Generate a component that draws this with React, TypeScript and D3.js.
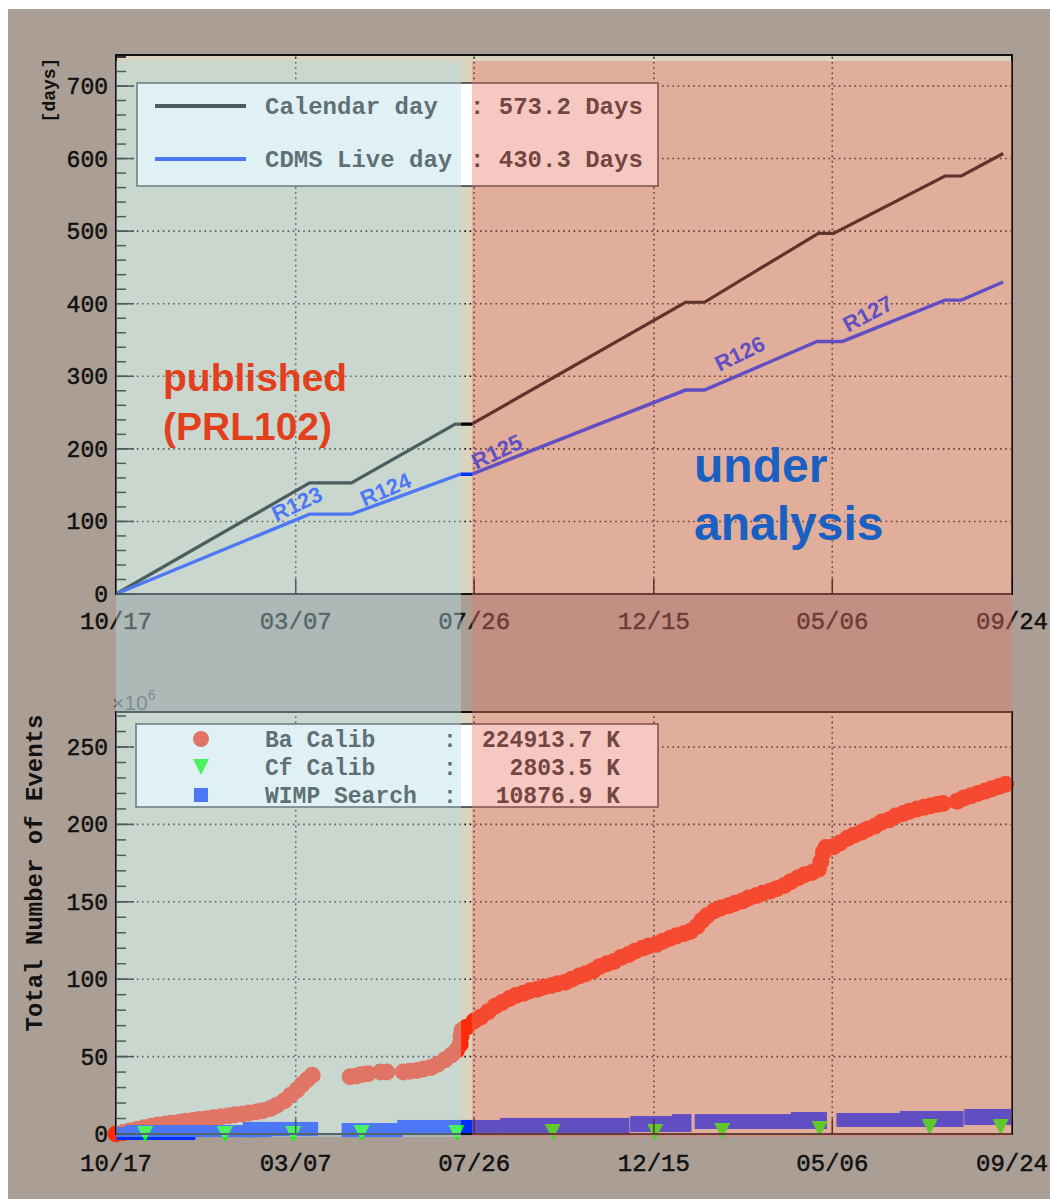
import React from 'react'
import * as d3 from 'd3'

// x axis: days since 10/17
const xTickLabels = ['10/17', '03/07', '07/26', '12/15', '05/06', '09/24']
const xTickDays = [0, 142, 283, 425, 566, 708]
const topTicks = [0, 100, 200, 300, 400, 500, 600, 700]
const bottomTicks = [0, 50, 100, 150, 200, 250]

// [day, days accumulated]
const calendarDay: [number, number][] = [
  [0, 0], [153, 153], [186, 153], [268, 234], [281, 234], [450, 402], [465, 402],
  [555, 497], [567, 497], [655, 576], [668, 576], [701, 607],
]
const liveDay: [number, number][] = [
  [0, 0], [153, 110], [186, 110], [272, 165], [281, 165], [450, 281], [465, 281],
  [554, 348], [574, 348], [655, 405], [668, 405], [701, 430],
]
const runNames = ['R123', 'R124', 'R125', 'R126', 'R127']
const runLabelPos: [number, number, number][] = [
  [143, 124, -25], [213, 144, -23], [301, 196, -25], [493, 331, -26], [594, 386, -28],
]

// Ba calib, [day, 10^6 events]
const baCalib: [number, number][] = [
  [0, 0], [6, 1], [11, 2], [17, 3], [22, 4], [28, 5], [33, 5.8], [39, 6.5], [44, 7],
  [50, 7.6], [55, 8.2], [61, 8.8], [66, 9.3], [72, 9.8], [77, 10.5], [83, 11.2],
  [89, 11.8], [94, 12.4], [100, 13], [105, 13.6], [111, 14.3], [116, 15], [122, 16.5],
  [127, 18.5], [133, 21.5], [138, 25], [143, 28.5], [147, 32], [151, 35], [155, 38],
  [185, 37], [190, 37.5], [194, 38.5], [199, 39], [209, 40], [214, 40],
  [227, 40], [232, 40.5], [238, 41], [243, 42], [249, 43], [254, 45], [260, 48],
  [265, 51], [269, 54], [272, 58], [272.6, 63], [273.4, 67], [277, 69], [283, 73],
  [288, 75.5], [294, 79], [299.5, 82.5], [305, 85], [311, 87.5], [316, 89.5],
  [322, 91], [327, 92.5], [333, 93.5], [338, 95], [344, 96], [349, 97], [355, 98],
  [360, 100], [366, 102], [371, 103.5], [377, 105.5], [382, 108], [388, 110],
  [393.5, 111.5], [399, 114], [405, 116], [410, 118], [416, 120], [421, 121.5],
  [427, 122.5], [432, 124.5], [438, 126.5], [443, 128], [449, 129.5], [454, 131],
  [459, 134], [463, 138], [467, 141], [472.5, 144], [478, 146], [484, 147.5],
  [489, 149], [495, 150.5], [500, 152.5], [506, 154], [511, 155.5], [517, 157],
  [522, 158.5], [528, 160.5], [533, 163], [539, 165.5], [544, 167.5], [550, 169],
  [555, 171], [557, 176], [559, 182], [561, 185], [567, 185.5], [572, 188],
  [578, 191], [583, 193], [589, 195], [594, 197], [600, 199], [605, 201.5],
  [611, 203], [616, 205.5], [622, 207], [627, 208.5], [633, 210], [638.5, 211],
  [644, 212], [649.5, 213], [653.5, 213.5], [664.6, 215], [670, 217], [675.6, 218.5],
  [681, 220], [686.7, 221.5], [692, 223], [697.7, 224.5], [703, 226],
]

// Cf calib, [day, 10^6 events]
const cfCalib: [number, number][] = [
  [23, 0.6], [86, 0.6], [140, 0.6], [194, 1.3], [269, 1.3], [345, 2], [426, 2],
  [479, 2.6], [556, 3.9], [643, 5.2], [699, 5.2],
]

// WIMP search runs: [first day, last day, low, high] in 10^6 events
const wimpSearch: [number, number, number, number][] = [
  [5, 12, 0, 0.6], [12, 58, 0, 1.9], [58, 105, 1.9, 1.9], [105, 118, 1.9, 3.9],
  [118, 155, 2.5, 3.9], [183, 222, 1.9, 3.2], [227, 299, 3.2, 5.2], [308, 401, 3.2, 6.5],
  [411, 435, 5.2, 7.7], [444, 450, 5.2, 9], [462, 529, 7.1, 9], [538, 557, 7.1, 10.3],
  [574, 615, 8.4, 9.7], [624, 665, 8.4, 11], [675, 703, 9.7, 12.3],
]

const topLegend = [
  { name: 'Calendar day', value: ': 573.2 Days', color: '#000' },
  { name: 'CDMS Live day', value: ': 430.3 Days', color: '#0030ff' },
]
const bottomLegend = [
  { name: 'Ba Calib', value: '224913.7 K' },
  { name: 'Cf Calib', value: '2803.5 K' },
  { name: 'WIMP Search', value: '10876.9 K' },
]

const BA = '#ff2a08'
const CF = '#00ff00'
const WIMP = '#0030ff'
const MONO = '"Liberation Mono", "DejaVu Sans Mono", monospace'
const SANS = '"Liberation Sans", Arial, sans-serif'

const L = 116
const R = 1012

const x = d3.scaleLinear().domain([0, 708]).range([L, R])
const yTop = d3.scaleLinear().domain([0, 700]).range([594, 86])
const yBot = d3.scaleLinear().domain([0, 250]).range([1134, 747])

const tri = 'M-8,-7L8,-7L0,9Z'

const App = () => {
  const line = (s: d3.ScaleLinear<number, number>) =>
    d3.line<[number, number]>().x((d) => x(d[0])).y((d) => s(d[1]))

  const topY0 = 594
  const topY1 = 55
  const botY0 = 1134
  const botY1 = 712

  const dots = '1.6,3.6'

  const yAxis = (s: d3.ScaleLinear<number, number>, major: number[], minorStep: number, maxV: number, key: string) => (
    <g key={key}>
      {d3.range(0, maxV, minorStep).map((v) => (
        <line key={'m' + v} x1={L} x2={L + 10} y1={s(v)} y2={s(v)} stroke="#000" strokeWidth={1.5} />
      ))}
      {major.map((v) => (
        <g key={v}>
          <line x1={L} x2={L + 18} y1={s(v)} y2={s(v)} stroke="#000" strokeWidth={1.5} />
          <text x={108} y={s(v) + 8} textAnchor="end" fontFamily={MONO} fontSize={23} fill="#111" stroke="#111" strokeWidth={0.5}>
            {v}
          </text>
        </g>
      ))}
    </g>
  )

  const xAxis = (y0: number, labelY: number, key: string) => (
    <g key={key}>
      {xTickDays.map((d, i) => (
        <g key={d}>
          <line x1={x(d)} x2={x(d)} y1={y0} y2={y0 - 15} stroke="#000" strokeWidth={1.5} />
          <text x={x(d)} y={labelY} textAnchor="middle" fontFamily={MONO} fontSize={24} fill="#111" stroke="#111" strokeWidth={0.5}>
            {xTickLabels[i]}
          </text>
        </g>
      ))}
    </g>
  )

  const grid = (s: d3.ScaleLinear<number, number>, ticks: number[], y0: number, y1: number) => (
    <g stroke="#111" strokeWidth={1.6} strokeDasharray={dots}>
      {xTickDays.slice(1, -1).map((d) => (
        <line key={'v' + d} x1={x(d)} x2={x(d)} y1={y0} y2={y1} />
      ))}
      {ticks.slice(1).map((v) => (
        <line key={'h' + v} x1={L} x2={R} y1={s(v)} y2={s(v)} />
      ))}
    </g>
  )

  return (
    <svg width={1050} height={1199} style={{ position: 'absolute', left: 0, top: 0 }}>
      <rect x={0} y={0} width={1050} height={1199} fill="#fff" />
      <rect x={8} y={9} width={1042} height={1190} fill="#aa9e95" />

      {/* plot areas */}
      <rect x={L} y={topY1} width={R - L} height={topY0 - topY1} fill="#dad3bd" />
      <rect x={L} y={botY1} width={R - L} height={botY0 - botY1} fill="#dad3bd" />

      {grid(yTop, topTicks, topY0, topY1)}
      {grid(yBot, bottomTicks, botY0, botY1)}

      {/* top: days */}
      <path d={line(yTop)(calendarDay) || ''} fill="none" stroke="#000" strokeWidth={3.2} />
      <path d={line(yTop)(liveDay) || ''} fill="none" stroke={WIMP} strokeWidth={3.4} />
      {runNames.map((n, i) => (
        <text
          key={n}
          transform={`translate(${x(runLabelPos[i][0])},${yTop(runLabelPos[i][1])}) rotate(${runLabelPos[i][2]})`}
          textAnchor="middle"
          dominantBaseline="central"
          fontFamily={SANS}
          fontWeight="bold"
          fontSize={22}
          fill={WIMP}
        >
          {n}
        </text>
      ))}

      {/* bottom: events */}
      {baCalib.map((d, i) => (
        <circle key={i} cx={x(d[0])} cy={yBot(d[1])} r={8.5} fill={BA} />
      ))}
      {wimpSearch.map((d, i) => (
        <rect
          key={i}
          x={x(d[0]) - 6}
          y={yBot(d[3]) - 6}
          width={x(d[1]) - x(d[0]) + 12}
          height={yBot(d[2]) - yBot(d[3]) + 12}
          fill={WIMP}
        />
      ))}
      {cfCalib.map((d, i) => (
        <path key={i} d={tri} transform={`translate(${x(d[0])},${yBot(d[1])})`} fill={CF} />
      ))}

      {/* legends */}
      <g>
        <rect x={137} y={83} width={521} height={103} fill="#fff" stroke="#333" strokeWidth={1.5} />
        {topLegend.map((e, i) => (
          <g key={e.name}>
            <line x1={155} x2={246} y1={106 + i * 53} y2={106 + i * 53} stroke={e.color} strokeWidth={4} />
            <text x={265} y={114 + i * 53} fontFamily={MONO} fontWeight="bold" fontSize={24} fill="#222">
              {e.name}
            </text>
            <text x={470} y={114 + i * 53} fontFamily={MONO} fontWeight="bold" fontSize={24} fill="#222">
              {e.value}
            </text>
          </g>
        ))}
      </g>
      <g>
        <rect x={136} y={724} width={522} height={83} fill="#fff" stroke="#333" strokeWidth={1.5} />
        <circle cx={201} cy={739} r={8} fill={BA} />
        <path d={tri} transform="translate(201,766)" fill={CF} />
        <rect x={194} y={788} width={14} height={14} fill={WIMP} />
        {bottomLegend.map((e, i) => (
          <g key={e.name}>
            <text x={265} y={747 + i * 28} fontFamily={MONO} fontWeight="bold" fontSize={23} fill="#222">
              {e.name}
            </text>
            <text x={443} y={747 + i * 28} fontFamily={MONO} fontWeight="bold" fontSize={23} fill="#222">
              :
            </text>
            <text x={620} y={747 + i * 28} textAnchor="end" fontFamily={MONO} fontWeight="bold" fontSize={23} fill="#222">
              {e.value}
            </text>
          </g>
        ))}
      </g>

      {/* frames and axes */}
      <rect x={L} y={topY1} width={R - L} height={topY0 - topY1} fill="none" stroke="#111" strokeWidth={2} />
      <rect x={L} y={botY1} width={R - L} height={botY0 - botY1} fill="none" stroke="#111" strokeWidth={2} />
      {yAxis(yTop, topTicks, 20, 741, 'yt')}
      {yAxis(yBot, bottomTicks, 10, 271, 'yb')}
      {xAxis(topY0, 629, 'xt')}
      {xAxis(botY0, 1171, 'xb')}
      <text x={112} y={710} fontFamily={SANS} fontSize={21} fill="#555">
        ×10
        <tspan dy={-10} fontSize={14}>6</tspan>
      </text>

      {/* shaded periods */}
      <rect x={L} y={61} width={461 - L} height={1137 - 61} fill="rgb(181,222,231)" opacity={0.42} />
      <rect x={472} y={61} width={R - 472} height={1137 - 61} fill="rgb(233,121,108)" opacity={0.41} />

      {/* axis titles */}
      <text transform="translate(55,90) rotate(-90)" textAnchor="middle" fontFamily={MONO} fontWeight="bold" fontSize={18} fill="#111">
        [days]
      </text>
      <text transform="translate(42,873) rotate(-90)" textAnchor="middle" fontFamily={MONO} fontWeight="bold" fontSize={24} fill="#111">
        Total Number of Events
      </text>

      {/* annotations */}
      <text fontFamily={SANS} fontWeight="bold" fontSize={39} fill="#e2401d">
        <tspan x={163} y={391}>published</tspan>
        <tspan x={163} y={440}>(PRL102)</tspan>
      </text>
      <text fontFamily={SANS} fontWeight="bold" fontSize={48} fill="#1a5fc2">
        <tspan x={694} y={482}>under</tspan>
        <tspan x={694} y={540}>analysis</tspan>
      </text>
    </svg>
  )
}

export default App
